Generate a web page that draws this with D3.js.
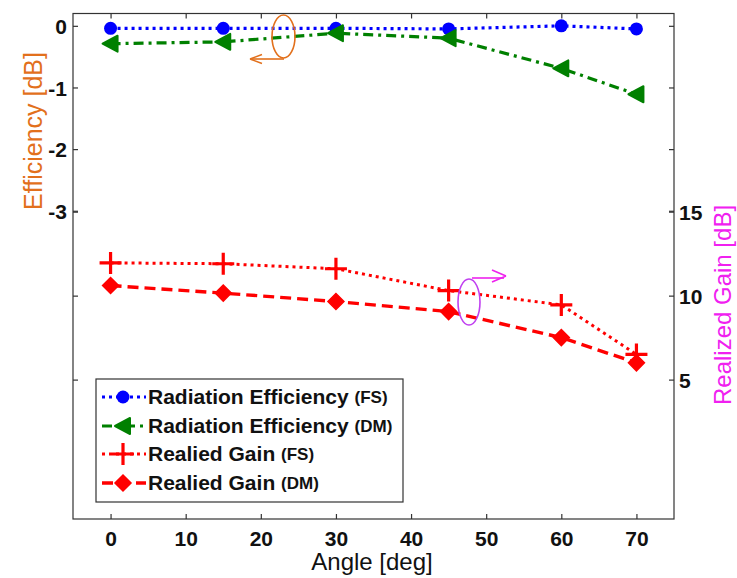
<!DOCTYPE html>
<html>
<head>
<meta charset="utf-8">
<script src="https://cdn.jsdelivr.net/npm/d3@7"></script>
<style>
  body { margin: 0; background: #fff; }
  text { font-family: Arial, "Liberation Sans", sans-serif; }
</style>
</head>
<body>
<div id="viz"></div>
<script>
var w = 737;
var h = 578;

// data
var angles = [0, 15, 30, 45, 60, 70];
var radEffFS = [-0.04, -0.04, -0.04, -0.05, 0.0, -0.05];
var radEffDM = [-0.29, -0.26, -0.12, -0.20, -0.69, -1.11];
var gainFS = [11.95, 11.9, 11.6, 10.3, 9.45, 6.5];
var gainDM = [10.6, 10.15, 9.65, 9.05, 7.5, 6.0];
var xTicks = [0, 10, 20, 30, 40, 50, 60, 70];
var effTicks = [0, -1, -2, -3];
var gainTicks = [5, 10, 15];

var plotLeft = 73, plotRight = 674, plotTop = 13.5, plotBottom = 519;

var svg = d3.select("#viz")
    .append("svg")
    .attr("width", w)
    .attr("height", h);

var x = d3.scaleLinear().domain([-5, 75]).range([plotLeft, plotRight]);
var yEff = d3.scaleLinear().domain([-8, 0.2]).range([plotBottom, plotTop]);
var yGain = d3.scaleLinear().domain([-3.3, 26.8]).range([plotBottom, plotTop]);

var tickLen = 5;

// box
svg.append("rect")
    .attr("x", plotLeft).attr("y", plotTop)
    .attr("width", plotRight - plotLeft).attr("height", plotBottom - plotTop)
    .attr("fill", "none").attr("stroke", "#333").attr("stroke-width", 1.2);

// x axes (bottom + mirrored top)
var gxB = svg.append("g").attr("transform", "translate(0," + plotBottom + ")")
    .call(d3.axisBottom(x).tickValues(xTicks).tickSizeInner(-tickLen).tickSizeOuter(0).tickPadding(12));
var gxT = svg.append("g").attr("transform", "translate(0," + plotTop + ")")
    .call(d3.axisTop(x).tickValues(xTicks).tickSizeInner(-tickLen).tickSizeOuter(0).tickFormat(""));

// efficiency axis (left + mirrored right)
var gyL = svg.append("g").attr("transform", "translate(" + plotLeft + ",0)")
    .call(d3.axisLeft(yEff).tickValues(effTicks).tickSizeInner(-tickLen).tickSizeOuter(0).tickPadding(6)
        .tickFormat(function (d) { return d == 0 ? "0" : "-" + Math.abs(d); }));
var gyR = svg.append("g").attr("transform", "translate(" + plotRight + ",0)")
    .call(d3.axisRight(yEff).tickValues(effTicks).tickSizeInner(-tickLen).tickSizeOuter(0).tickFormat(""));

// gain axis (right + mirrored left)
var gg = svg.append("g").attr("transform", "translate(" + plotRight + ",0)")
    .call(d3.axisRight(yGain).tickValues(gainTicks).tickSizeInner(-tickLen).tickSizeOuter(0).tickPadding(5));
var ggL = svg.append("g").attr("transform", "translate(" + plotLeft + ",0)")
    .call(d3.axisLeft(yGain).tickValues(gainTicks).tickSizeInner(-tickLen).tickSizeOuter(0).tickFormat(""));

[gxB, gxT, gyL, gyR, gg, ggL].forEach(function (g) {
    g.select(".domain").remove();
    g.selectAll("line").attr("stroke", "#333").attr("stroke-width", 1.2);
    g.selectAll("text")
        .attr("fill", "#111")
        .style("font-size", "21px")
        .style("font-weight", "bold");
});
gyL.selectAll("text").attr("dy", "0.36em");
gg.selectAll("text").attr("dy", "0.36em");

// axis labels
svg.append("text")
    .attr("x", 372).attr("y", 570)
    .attr("text-anchor", "middle")
    .style("font-size", "24px")
    .attr("fill", "#111")
    .text("Angle [deg]");

svg.append("text")
    .attr("transform", "translate(42,131) rotate(-90)")
    .attr("text-anchor", "middle")
    .style("font-size", "25px")
    .attr("fill", "#e2701c")
    .text("Efficiency [dB]");

svg.append("text")
    .attr("transform", "translate(731,305) rotate(-90)")
    .attr("text-anchor", "middle")
    .style("font-size", "24px")
    .attr("fill", "#f020f0")
    .text("Realized Gain [dB]");

// series
var series = [
    { name: "Radiation Efficiency", tag: "(FS)", vals: radEffFS, y: yEff, color: "#0000ff", dash: "3,4", width: 3.2, marker: "circle" },
    { name: "Radiation Efficiency", tag: "(DM)", vals: radEffDM, y: yEff, color: "#008000", dash: "10,5,3,5", width: 3.2, marker: "triangle" },
    { name: "Realied Gain", tag: "(FS)", vals: gainFS, y: yGain, color: "#ff0000", dash: "3,4", width: 3, marker: "plus" },
    { name: "Realied Gain", tag: "(DM)", vals: gainDM, y: yGain, color: "#ff0000", dash: "11,6", width: 3.4, marker: "diamond" }
];

function drawMarker(g, type, color) {
    if (type == "circle") {
        g.append("circle").attr("r", 6.5).attr("fill", color);
    } else if (type == "triangle") {
        g.append("path").attr("d", "M-8,0L7,-8L7,8Z")
            .attr("fill", color).attr("stroke", color).attr("stroke-width", 2).attr("stroke-linejoin", "round");
    } else if (type == "plus") {
        g.append("path").attr("d", "M-11,0H11M0,-11V11")
            .attr("stroke", color).attr("stroke-width", 3.2).attr("fill", "none");
    } else if (type == "diamond") {
        g.append("path").attr("d", "M0,-8L8,0L0,8L-8,0Z")
            .attr("fill", color).attr("stroke", color).attr("stroke-width", 1.5);
    }
}

var lineholder = svg.append("g").attr("class", "lines");

series.forEach(function (s) {
    var pts = angles.map(function (a, i) { return [a, s.vals[i]]; });
    var line = d3.line()
        .x(function (d) { return x(d[0]); })
        .y(function (d) { return s.y(d[1]); });
    lineholder.append("path")
        .datum(pts)
        .attr("d", line)
        .attr("fill", "none")
        .attr("stroke", s.color)
        .attr("stroke-width", s.width)
        .attr("stroke-dasharray", s.dash);
    pts.forEach(function (d) {
        var m = lineholder.append("g")
            .attr("transform", "translate(" + x(d[0]) + "," + s.y(d[1]) + ")");
        drawMarker(m, s.marker, s.color);
    });
});

// annotations
var orange = "#e2701c";
svg.append("ellipse")
    .attr("cx", 283.5).attr("cy", 36.5).attr("rx", 11.5).attr("ry", 21.5)
    .attr("fill", "none").attr("stroke", orange).attr("stroke-width", 1.6);
svg.append("path")
    .attr("d", "M284,59H252")
    .attr("stroke", orange).attr("stroke-width", 1.6).attr("fill", "none");
svg.append("path")
    .attr("d", "M250,59L262,54.5M250,59L262,63.5")
    .attr("stroke", orange).attr("stroke-width", 1.6).attr("fill", "none");

var mag = "#ee22ee";
svg.append("ellipse")
    .attr("cx", 469).attr("cy", 302).attr("rx", 11).attr("ry", 23)
    .attr("fill", "none").attr("stroke", "#c040f0").attr("stroke-width", 1.6);
svg.append("path")
    .attr("d", "M472,278H504")
    .attr("stroke", mag).attr("stroke-width", 1.6).attr("fill", "none");
svg.append("path")
    .attr("d", "M506,276L492,270M506,276L492,282")
    .attr("stroke", mag).attr("stroke-width", 1.6).attr("fill", "none");

// legend
var legend = svg.append("g").attr("class", "legend");
legend.append("rect")
    .attr("x", 96).attr("y", 379).attr("width", 307).attr("height", 123)
    .attr("fill", "#fff").attr("stroke", "#333").attr("stroke-width", 1.2);

var legendY = [397, 426, 454, 483];
series.forEach(function (s, i) {
    var ly = legendY[i];
    legend.append("path")
        .attr("d", "M102," + ly + "H146")
        .attr("stroke", s.color).attr("stroke-width", s.width)
        .attr("stroke-dasharray", s.dash).attr("fill", "none");
    var m = legend.append("g").attr("transform", "translate(123," + ly + ")");
    drawMarker(m, s.marker, s.color);
    var t = legend.append("text")
        .attr("x", 148).attr("y", ly + 7)
        .attr("fill", "#111")
        .style("font-weight", "bold")
        .style("font-size", "21px");
    t.append("tspan").text(s.name + " ");
    t.append("tspan").style("font-size", "17px").attr("dy", -1).text(s.tag);
});
</script>
</body>
</html>
